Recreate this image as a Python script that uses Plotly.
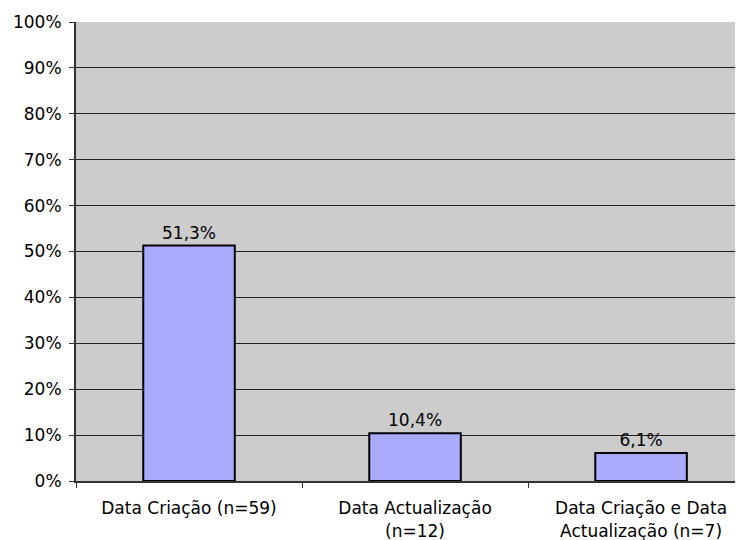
import plotly.graph_objects as go

categories = ["Data Criação (n=59)", "Data Actualização<br>(n=12)", "Data Criação e Data<br>Actualização (n=7)"]
values = [51.3, 10.4, 6.1]
labels = ["51,3%", "10,4%", "6,1%"]

fig = go.Figure(go.Bar(
    x=categories, y=values, text=labels, textposition="outside",
    marker=dict(color="#AAAAFF", line=dict(color="#000000", width=2)),
    width=0.405, cliponaxis=False,
    textfont=dict(family="DejaVu Sans", size=17, color="#000000"),
))

fig.update_layout(
    width=735, height=532,
    margin=dict(l=68, r=0, t=14, b=59, autoexpand=False),
    paper_bgcolor="white", plot_bgcolor="#CCCCCC",
    font=dict(family="DejaVu Sans", size=17, color="#000000"),
    showlegend=False,
)
fig.update_xaxes(
    range=[-0.5, 2.451], tickson="boundaries", ticks="outside", ticklen=5,
    tickcolor="#333333", showline=True, linecolor="#333333", linewidth=2,
    showgrid=False, tickfont=dict(size=17), automargin=False,
    ticklabelstandoff=11,
)
fig.update_yaxes(
    range=[0, 100], dtick=10, ticksuffix="%", ticks="outside", ticklen=5,
    tickcolor="#333333", showline=True, linecolor="#333333", linewidth=2,
    gridcolor="#222222", gridwidth=1, zeroline=False, tickfont=dict(size=17),
    automargin=False, ticklabelstandoff=4,
)

fig.write_html("out.html")
